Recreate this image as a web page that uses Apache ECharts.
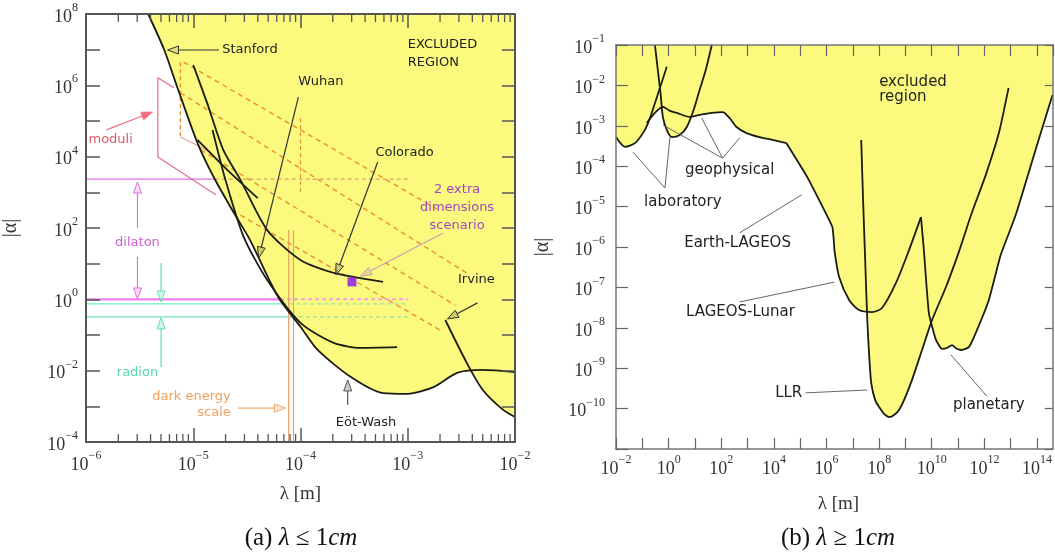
<!DOCTYPE html>
<html><head><meta charset="utf-8">
<script src="https://cdn.jsdelivr.net/npm/echarts@6/dist/echarts.min.js"></script>
<style>html,body{margin:0;padding:0;background:#fff}#c{width:1055px;height:558px}</style>
</head><body><div id="c"></div>
<script>
// All values are log10 exponents: [log10(lambda / m), log10(|alpha|)]
// ---------- panel (a): lambda <= 1 cm ----------
const eotWashBound = [[-5.42,8.0],[-5.27,6.99],[-5.14,5.87],[-4.96,4.38],[-4.81,3.43],[-4.62,2.42],[-4.47,1.66],[-4.21,0.07],[-4.0,-0.77],[-3.84,-1.42],[-3.53,-2.18],[-3.23,-2.63],[-3.0,-2.65],[-2.76,-2.46],[-2.54,-2.06],[-2.30,-1.98],[-2.0,-2.04]];
const irvine = [[-2.65,-0.58],[-2.45,-1.78],[-2.30,-2.54],[-2.11,-3.10],[-2.0,-3.30]];
const coloradoCurve = [[-5.0,6.57],[-4.87,5.50],[-4.72,4.19],[-4.56,3.35],[-4.31,1.94],[-4.0,1.10],[-3.69,0.74],[-3.23,0.49]];
const wuhanCurve = [[-4.82,4.75],[-4.70,3.35],[-4.53,1.75],[-4.31,0.54],[-4.0,-0.66],[-3.69,-1.22],[-3.44,-1.36],[-3.10,-1.34]];
const shortCurve = [[-4.96,4.47],[-4.70,3.68],[-4.40,2.84]];
const leftExcludedLower = [[-5.42,8.0],[-5.27,6.99],[-5.14,5.87],[-4.96,4.38],[-4.81,3.43],[-4.62,2.42],[-4.47,1.66],[-4.21,0.07],[-4.0,-0.77],[-3.84,-1.42],[-3.53,-2.18],[-3.23,-2.63],[-3.0,-2.65],[-2.76,-2.46],[-2.54,-2.06],[-2.40,-2.03],[-2.30,-2.54],[-2.11,-3.10],[-2.0,-3.30]];
const extraDimPoint = [[-3.52,0.49]];
const dilatonBand = [3.37, 0.0];
const radionBand = [-0.13, -0.49];
const darkEnergyLambda = [-4.11, -4.065];
const modDashed = [
  [[-5.09,6.65],[-2.70,2.48]],
  [[-5.12,5.79],[-2.42,0.68]],
  [[-4.93,4.19],[-2.56,-0.16]],
  [[-4.56,2.36],[-2.70,-0.86]]
];
const leftXTicks = [-6,-5,-4,-3,-2];
const leftYTicks = [-4,-2,0,2,4,6,8];

// ---------- panel (b): lambda >= 1 cm ----------
const lab1 = [[-2.0,-3.28],[-1.66,-3.52],[-1.28,-3.43],[-0.90,-3.10],[-0.71,-2.81],[-0.52,-2.44],[-0.33,-2.06],[-0.07,-1.54]];
const lab2 = [[-0.52,-1.0],[-0.41,-1.62],[-0.30,-2.24],[-0.22,-2.78],[-0.07,-3.10],[0.12,-3.28],[0.42,-3.23],[0.69,-3.03],[0.95,-2.61],[1.18,-2.11],[1.41,-1.62],[1.64,-1.0]];
const geophysical = [[-0.83,-2.93],[-0.52,-2.68],[-0.22,-2.53],[0.05,-2.63],[0.31,-2.68],[0.80,-2.78],[1.18,-2.73],[1.64,-2.68],[2.05,-2.66],[2.32,-2.81],[2.58,-3.03],[2.96,-3.18],[3.45,-3.28],[3.95,-3.35],[4.48,-3.43]];
const earthLageos = [[4.48,-3.43],[5.27,-4.27],[6.22,-5.50],[6.30,-6.07]];
const lageosLunar = [[6.30,-6.07],[6.48,-6.74],[6.86,-7.31],[7.24,-7.56],[7.73,-7.61],[8.11,-7.51],[8.64,-6.89],[9.14,-6.07],[9.59,-5.26]];
const planetary = [[9.59,-5.26],[9.70,-6.07],[9.89,-7.63],[10.16,-8.30],[10.39,-8.52],[10.58,-8.50],[10.77,-8.43],[10.95,-8.52],[11.14,-8.55],[11.41,-8.48],[11.67,-8.13],[12.17,-7.31],[12.62,-6.20],[13.19,-5.21],[14.06,-3.35],[14.59,-2.24]];
const llr = [[7.32,-3.35],[7.39,-4.84],[7.47,-6.32],[7.55,-7.81],[7.62,-8.67],[7.70,-9.37],[7.85,-9.79],[8.0,-9.96],[8.19,-10.13],[8.38,-10.21],[8.57,-10.16],[8.76,-10.03],[8.98,-9.74],[9.25,-9.29],[9.63,-8.55],[10.01,-7.81],[10.54,-6.99],[11.03,-6.12],[11.52,-5.16],[12.05,-4.22],[12.55,-3.18],[12.92,-2.06]];
const rightExcludedLower = [[-2.0,-3.28],[-1.66,-3.52],[-1.28,-3.43],[-0.90,-3.10],[-0.83,-2.98],[-0.52,-2.68],[-0.26,-2.56],[-0.22,-2.78],[-0.07,-3.10],[0.12,-3.28],[0.42,-3.23],[0.69,-3.03],[0.86,-2.79],[1.18,-2.73],[1.64,-2.68],[2.05,-2.66],[2.32,-2.81],[2.58,-3.03],[2.96,-3.18],[3.45,-3.28],[3.95,-3.35],[4.48,-3.43],[5.27,-4.27],[6.22,-5.50],[6.30,-6.07],[6.48,-6.74],[6.86,-7.31],[7.24,-7.56],[7.58,-7.62],[7.62,-8.67],[7.70,-9.37],[7.85,-9.79],[8.0,-9.96],[8.19,-10.13],[8.38,-10.21],[8.57,-10.16],[8.76,-10.03],[8.98,-9.74],[9.25,-9.29],[9.63,-8.55],[9.97,-7.87],[10.16,-8.30],[10.39,-8.52],[10.58,-8.50],[10.77,-8.43],[10.95,-8.52],[11.14,-8.55],[11.41,-8.48],[11.67,-8.13],[12.17,-7.31],[12.62,-6.20],[13.19,-5.21],[14.06,-3.35],[14.59,-2.24]];
const rightXTicks = [-2,0,2,4,6,8,10,12,14];
const rightYTicks = [-10,-9,-8,-7,-6,-5,-4,-3,-2,-1];

// ---------- styles ----------
const YELLOW = '#fbfa7e';
const BLACK = '#1c1c10';
const SERIF = 'Liberation Serif';
const SANS = 'DejaVu Sans';

function supLabel(v){
  if (Math.abs(v - Math.round(v)) > 1e-6) return '';
  const e = Math.round(v);
  return '{b|10}{s|' + (e < 0 ? '\u2212' + (-e) : e) + '}';
}
const supRich = {
  b:{fontSize:18, fontFamily:SERIF, color:'#333', verticalAlign:'bottom', lineHeight:24},
  s:{fontSize:12, fontFamily:SERIF, color:'#333', verticalAlign:'top'}
};

// annotation arrows (data coordinates)
const leftArrows = [
  {from:[-4.76,6.99], to:[-5.24,6.99], color:'#333', fill:'rgba(160,160,80,0.3)'},
  {from:[-4.02,5.67], to:[-4.39,1.16], color:'#333', fill:'rgba(160,160,80,0.5)'},
  {from:[-3.28,3.85], to:[-3.67,0.68], color:'#333', fill:'rgba(160,160,80,0.5)'},
  {from:[-2.67,1.86], to:[-3.44,0.65], color:'#c8a0b0', fill:'rgba(200,160,176,0.4)'},
  {from:[-2.35,-0.10], to:[-2.63,-0.55], color:'#333', fill:'rgba(160,160,80,0.5)'},
  {from:[-3.56,-2.96], to:[-3.56,-2.26], color:'#555', fill:'rgba(150,150,170,0.5)'},
  {from:[-5.81,4.75], to:[-5.38,5.25], color:'#f07080', fill:'#f07080'},
  {from:[-5.52,2.0], to:[-5.52,3.29], color:'#e070e0', fill:'rgba(230,120,230,0.25)'},
  {from:[-5.52,1.19], to:[-5.52,0.01], color:'#e070e0', fill:'rgba(230,120,230,0.25)'},
  {from:[-5.30,1.02], to:[-5.30,-0.07], color:'#60e0b0', fill:'rgba(96,224,176,0.25)'},
  {from:[-5.30,-1.90], to:[-5.30,-0.52], color:'#60e0b0', fill:'rgba(96,224,176,0.25)'},
  {from:[-4.58,-3.05], to:[-4.14,-3.05], color:'#f0a868', fill:'rgba(240,168,104,0.25)'}
];
const leftTexts = [
  {at:[-4.73,6.99], text:'Stanford', align:'left', color:'#222'},
  {at:[-3.81,6.09], text:'Wuhan', align:'center', color:'#222'},
  {at:[-3.03,4.10], text:'Colorado', align:'center', color:'#222'},
  {at:[-3.0,7.13], text:'EXCLUDED', align:'left', color:'#222'},
  {at:[-3.0,6.63], text:'REGION', align:'left', color:'#222'},
  {at:[-2.54,3.07], text:'2 extra', align:'center', color:'#a048c0'},
  {at:[-2.54,2.56], text:'dimensions', align:'center', color:'#a048c0'},
  {at:[-2.54,2.08], text:'scenario', align:'center', color:'#a048c0'},
  {at:[-2.36,0.54], text:'Irvine', align:'center', color:'#222'},
  {at:[-3.39,-3.47], text:'E\u00f6t-Wash', align:'center', color:'#222'},
  {at:[-5.77,4.47], text:'moduli', align:'center', color:'#e05868'},
  {at:[-5.52,1.58], text:'dilaton', align:'center', color:'#d060d0'},
  {at:[-5.52,-2.06], text:'radion', align:'center', color:'#50d8a8'},
  {at:[-4.65,-2.74], text:'dark energy', align:'right', color:'#f0a060'},
  {at:[-4.65,-3.19], text:'scale', align:'right', color:'#f0a060'}
];
const rightLeaders = [
  {from:[2.05,-3.80], to:[-0.22,-2.98]},
  {from:[2.05,-3.80], to:[1.26,-2.81]},
  {from:[2.05,-3.80], to:[2.70,-3.30]},
  {from:[-0.14,-4.54], to:[-1.36,-3.65]},
  {from:[-0.14,-4.54], to:[0.05,-3.28]},
  {from:[2.70,-5.65], to:[5.05,-4.71]},
  {from:[2.70,-7.36], to:[6.30,-6.87]},
  {from:[5.20,-9.61], to:[7.55,-9.54]},
  {from:[12.09,-9.69], to:[10.73,-8.67]}
];
const rightTexts = [
  {at:[8.0,-1.92], text:'excluded', align:'left', color:'#222'},
  {at:[8.0,-2.29], text:'region', align:'left', color:'#222'},
  {at:[2.32,-4.09], text:'geophysical', align:'center', color:'#222'},
  {at:[0.54,-4.89], text:'laboratory', align:'center', color:'#222'},
  {at:[2.62,-5.90], text:'Earth-LAGEOS', align:'center', color:'#222'},
  {at:[2.73,-7.61], text:'LAGEOS-Lunar', align:'center', color:'#222'},
  {at:[5.08,-9.61], text:'LLR', align:'right', color:'#222'},
  {at:[12.17,-9.91], text:'planetary', align:'center', color:'#222'}
];

function arrowSeries(list, xi, yi, opts){
  opts = opts || {};
  return {
    type:'custom', xAxisIndex:xi, yAxisIndex:yi, z:6, silent:true,
    data: list.map(a => [a.from[0], a.from[1], a.to[0], a.to[1]]),
    encode:{x:[0,2], y:[1,3]},
    renderItem:function(params, api){
      const a = list[params.dataIndex];
      const p1 = api.coord(a.from), p2 = api.coord(a.to);
      const dx = p2[0]-p1[0], dy = p2[1]-p1[1], len = Math.hypot(dx,dy) || 1;
      const ux = dx/len, uy = dy/len;
      const head = opts.noHead ? 0 : 11, hw = 4;
      const bx = p2[0]-ux*head, by = p2[1]-uy*head;
      const ch = [{type:'line', shape:{x1:p1[0],y1:p1[1],x2:bx,y2:by}, style:{stroke:a.color||opts.color, lineWidth:opts.width||1.2}}];
      if (!opts.noHead) ch.push({type:'polygon', shape:{points:[[p2[0],p2[1]],[bx-uy*hw,by+ux*hw],[bx+uy*hw,by-ux*hw]]}, style:{stroke:a.color, fill:a.fill, lineWidth:1}});
      return {type:'group', children:ch};
    }
  };
}
function textSeries(list, xi, yi, size){
  return {
    type:'custom', xAxisIndex:xi, yAxisIndex:yi, z:7, silent:true,
    data: list.map(t => t.at),
    renderItem:function(params, api){
      const t = list[params.dataIndex];
      const p = api.coord(t.at);
      return {type:'text', x:p[0], y:p[1], style:{text:t.text, fill:t.color, fontSize:size, fontFamily:SANS, align:t.align, verticalAlign:'middle'}};
    }
  };
}
function curve(data, xi, yi, extra){
  return Object.assign({type:'line', xAxisIndex:xi, yAxisIndex:yi, data:data, showSymbol:false, symbol:'none', smooth:0.25, silent:true, z:4,
    lineStyle:{color:BLACK, width:1.8}}, extra||{});
}
function seg(x1,y1,x2,y2,color,type,width,z){
  return {type:'line', xAxisIndex:0, yAxisIndex:0, data:[[x1,y1],[x2,y2]], showSymbol:false, symbol:'none', silent:true, z:z||3,
    lineStyle:{color:color, width:width||1.3, type:type||'solid'}};
}

// left minor ticks positions
const leftMinor = [];
leftXTicks.slice(0,-1).forEach(n => { for (let k=2;k<=9;k++) leftMinor.push(n + Math.log10(k)); });

const series = [];
// panel (a)
series.push(curve(leftExcludedLower, 0, 0, {smooth:0.25, lineStyle:{width:0, opacity:0}, areaStyle:{color:YELLOW, opacity:1, origin:'end'}, z:1}));
series.push(seg(-6, dilatonBand[0], -4.80, dilatonBand[0], '#e070e0'));
series.push(seg(-4.80, dilatonBand[0], -3.0, dilatonBand[0], '#e0a070', [4,3]));
series.push(seg(-6, dilatonBand[1], -4.19, dilatonBand[1], '#f080f0', 'solid', 2.2));
series.push(seg(-4.19, dilatonBand[1], -3.0, dilatonBand[1], '#f0a0e0', [4,3], 2));
series.push(seg(-6, radionBand[0], -4.17, radionBand[0], '#70e8c0'));
series.push(seg(-4.17, radionBand[0], -3.0, radionBand[0], '#a0e0a0', [4,3]));
series.push(seg(-6, radionBand[1], -4.08, radionBand[1], '#70e0b8'));
series.push(seg(-4.08, radionBand[1], -3.0, radionBand[1], '#a0e0a0', [4,3]));
darkEnergyLambda.forEach(x => series.push(seg(x, -4, x, 1.94, '#e8a060', 'solid', 1.2)));
series.push({type:'line', xAxisIndex:0, yAxisIndex:0, data:[[-5.18,5.93],[-5.33,6.21],[-5.33,3.99],[-4.79,2.93]], showSymbol:false, symbol:'none', silent:true, z:3, lineStyle:{color:'#e07088', width:1.2}});
series.push(seg(-5.12,4.55,-4.84,4.13,'#e0a0a0','solid',1.2));
series.push(seg(-5.12,6.65,-5.12,4.55,'#e8902c',[4,3],1.4));
series.push(seg(-4.0,5.08,-4.0,3.01,'#e8902c',[4,3],1.2));
modDashed.forEach(s => series.push(seg(s[0][0],s[0][1],s[1][0],s[1][1],'#e8902c',[5,4],1.4)));
series.push(curve(eotWashBound,0,0));
series.push(curve(irvine,0,0));
series.push(curve(coloradoCurve,0,0));
series.push(curve(wuhanCurve,0,0));
series.push(curve(shortCurve,0,0));
series.push({type:'scatter', xAxisIndex:0, yAxisIndex:0, data:extraDimPoint, symbol:'rect', symbolSize:9, itemStyle:{color:'#8a10f0'}, z:8, silent:true});
series.push(arrowSeries(leftArrows,0,0));
series.push(textSeries(leftTexts,0,0,13));
series.push({type:'custom', xAxisIndex:0, yAxisIndex:0, z:9, silent:true, data:leftMinor.map(v=>[v]), encode:{x:0},
  renderItem:function(params, api){
    const x = leftMinor[params.dataIndex];
    const b = api.coord([x, -4]), t = api.coord([x, 8]);
    return {type:'group', children:[
      {type:'line', shape:{x1:b[0],y1:b[1],x2:b[0],y2:b[1]-8}, style:{stroke:'#555', lineWidth:1.3}},
      {type:'line', shape:{x1:t[0],y1:t[1],x2:t[0],y2:t[1]+8}, style:{stroke:'#555', lineWidth:1.3}}
    ]};
  }});

// panel (b)
series.push(curve(rightExcludedLower, 2, 2, {lineStyle:{width:0, opacity:0}, areaStyle:{color:YELLOW, opacity:1, origin:'end'}, z:1}));
series.push(curve(lab1,2,2));
series.push(curve(lab2,2,2));
series.push(curve(geophysical,2,2));
series.push(curve(earthLageos,2,2,{smooth:0.1}));
series.push(curve(lageosLunar,2,2));
series.push(curve(planetary,2,2,{smooth:0.15}));
series.push(curve(llr,2,2,{smooth:0.2}));
series.push(arrowSeries(rightLeaders,2,2,{noHead:true, color:'#666', width:1}));
series.push(textSeries(rightTexts,2,2,15));

function axisCommon(color, width){
  return {axisLine:{show:true, onZero:false, lineStyle:{color:color, width:width}}, splitLine:{show:false}, z:10};
}

const option = {
  animation:false,
  backgroundColor:'#fff',
  grid:[
    {left:85, top:14, width:430, height:428},
    {left:616, top:45, width:438, height:404}
  ],
  xAxis:[
    Object.assign({type:'value', gridIndex:0, position:'bottom', min:-6, max:-2, interval:1,
      axisTick:{inside:true, length:14, lineStyle:{color:'#555', width:1.5}},
      axisLabel:{formatter:supLabel, rich:supRich, margin:8},
      name:'\u03bb [m]', nameLocation:'middle', nameGap:43, nameTextStyle:{fontFamily:SERIF, fontSize:19, color:'#333'}}, axisCommon('#555',2)),
    Object.assign({type:'value', gridIndex:0, position:'top', min:-6, max:-2, interval:1,
      axisTick:{inside:true, length:14, lineStyle:{color:'#555', width:1.5}}, axisLabel:{show:false}}, axisCommon('#555',2)),
    Object.assign({type:'value', gridIndex:1, position:'bottom', min:-2, max:14.6, interval:1,
      axisTick:{inside:true, length:11, lineStyle:{color:'#666', width:1.2}},
      axisLabel:{formatter:v => (Math.round(v)%2===0 && Math.abs(v-Math.round(v))<1e-6) ? supLabel(v) : '', rich:supRich, margin:5, showMaxLabel:false},
      name:'\u03bb [m]', nameLocation:'middle', nameGap:46, nameTextStyle:{fontFamily:SERIF, fontSize:19, color:'#333', padding:[0,0,0,8]}}, axisCommon('#777',1.5)),
    Object.assign({type:'value', gridIndex:1, position:'top', min:-2, max:14.6, interval:1,
      axisTick:{inside:true, length:11, lineStyle:{color:'#666', width:1.2}}, axisLabel:{show:false}}, axisCommon('#777',1.5))
  ],
  yAxis:[
    Object.assign({type:'value', gridIndex:0, position:'left', min:-4, max:8, interval:1,
      axisTick:{inside:true, length:14, lineStyle:{color:'#555', width:1.5}},
      axisLabel:{formatter:v => (Math.round(v)%2===0) ? supLabel(v) : '', rich:supRich, margin:8},
      name:'|\u03b1|', nameLocation:'middle', nameGap:65, nameRotate:90, nameTextStyle:{fontFamily:SERIF, fontSize:20, color:'#333'}}, axisCommon('#555',2)),
    Object.assign({type:'value', gridIndex:0, position:'right', min:-4, max:8, interval:1,
      axisTick:{inside:true, length:13, lineStyle:{color:'#555', width:1.5}}, axisLabel:{show:false}}, axisCommon('#555',2)),
    Object.assign({type:'value', gridIndex:1, position:'left', min:-11, max:-1, interval:1,
      axisTick:{inside:true, length:12, lineStyle:{color:'#666', width:1.2}},
      axisLabel:{formatter:v => v > -11 ? supLabel(v) : '', rich:supRich, margin:11},
      name:'|\u03b1|', nameLocation:'middle', nameGap:63, nameRotate:90, nameTextStyle:{fontFamily:SERIF, fontSize:20, color:'#333'}}, axisCommon('#777',1.5)),
    Object.assign({type:'value', gridIndex:1, position:'right', min:-11, max:-1, interval:1,
      axisTick:{inside:true, length:8, lineStyle:{color:'#666', width:1.2}}, axisLabel:{show:false}}, axisCommon('#777',1.5))
  ],
  graphic:[
    {type:'text', x:301, y:538, style:{text:'{n|(a) }{i|\u03bb}{n| \u2264 1}{i|cm}', align:'center', verticalAlign:'middle',
      rich:{n:{fontFamily:SERIF, fontSize:25, fill:'#111'}, i:{fontFamily:SERIF, fontSize:25, fontStyle:'italic', fill:'#111'}}}},
    {type:'text', x:838, y:538, style:{text:'{n|(b) }{i|\u03bb}{n| \u2265 1}{i|cm}', align:'center', verticalAlign:'middle',
      rich:{n:{fontFamily:SERIF, fontSize:25, fill:'#111'}, i:{fontFamily:SERIF, fontSize:25, fontStyle:'italic', fill:'#111'}}}}
  ],
  series:series
};
const chart = echarts.init(document.getElementById('c'), null, {renderer:'canvas'});
chart.setOption(option);
</script>
</body></html>
